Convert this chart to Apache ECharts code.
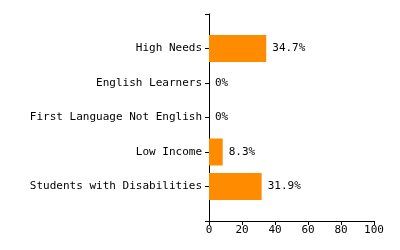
<!DOCTYPE html>
<html><head><meta charset="utf-8">
<script src="https://cdn.jsdelivr.net/npm/echarts@6/dist/echarts.min.js"></script>
<style>html,body{margin:0;padding:0;background:#fff}#c{width:400px;height:250px}</style>
</head><body><div id="c"></div>
<script>
// top-to-bottom as shown
var categories = ['High Needs', 'English Learners', 'First Language Not English', 'Low Income', 'Students with Disabilities'];
var values = [34.7, 0, 0, 8.3, 31.9];
var xTicks = [0, 20, 40, 60, 80, 100];

// category axis runs bottom-to-top; pad with empty end slots
var cats = [''].concat(categories.slice().reverse()).concat(['']);
var vals = ['-'].concat(values.slice().reverse()).concat(['-']);

var font = 'DejaVu Sans Mono';
var chart = echarts.init(document.getElementById('c'), null, {renderer: 'canvas'});
chart.setOption({
  animation: false,
  grid: {left: 209, right: 26, top: 14, bottom: 29, containLabel: false},
  xAxis: {
    type: 'value', min: xTicks[0], max: xTicks[xTicks.length - 1], interval: 20,
    axisLine: {show: true, lineStyle: {color: '#000', width: 1}},
    axisTick: {show: true, length: 4, lineStyle: {color: '#000'}},
    axisLabel: {color: '#000', fontFamily: font, fontSize: 11, margin: 4},
    splitLine: {show: false}
  },
  yAxis: {
    type: 'category', data: cats, boundaryGap: false,
    axisLine: {show: true, onZero: false, lineStyle: {color: '#000', width: 1}},
    axisTick: {show: true, length: 4, lineStyle: {color: '#000'}},
    axisLabel: {color: '#000', fontFamily: font, fontSize: 11, margin: 7},
    splitLine: {show: false}
  },
  series: [{
    type: 'bar', data: vals, barWidth: 27,
    itemStyle: {color: '#FF8C00'},
    label: {show: true, position: 'right', distance: 6, color: '#000', fontFamily: font, fontSize: 11,
      formatter: function (p) { return p.value + '%'; }}
  }]
});
</script></body></html>
